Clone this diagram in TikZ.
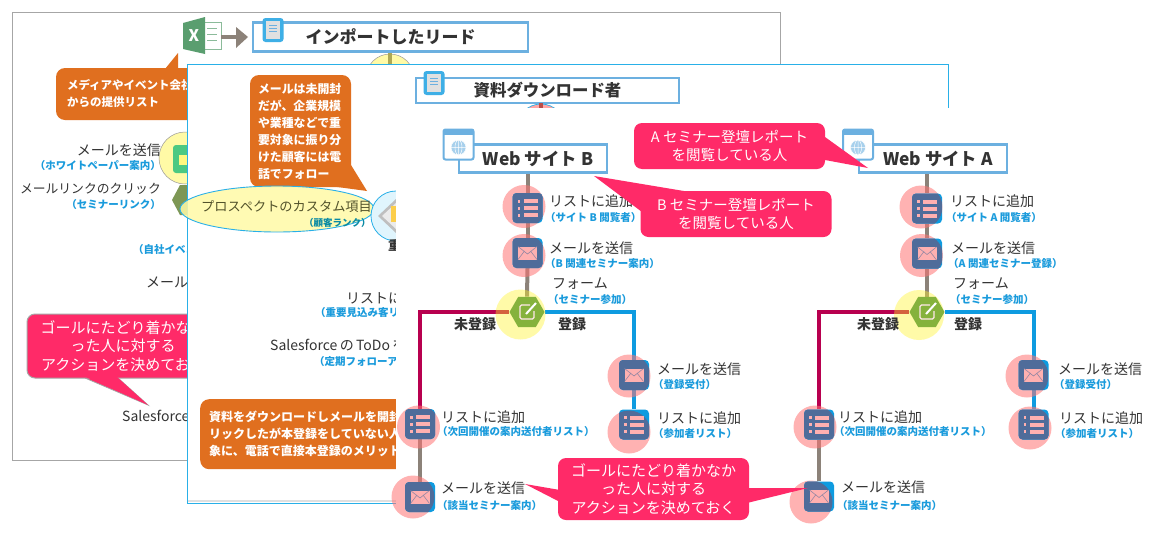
\documentclass[tikz,border=0pt]{standalone}
\usepackage{fontspec}
\setmainfont{Noto Sans CJK JP}
\usetikzlibrary{shapes.geometric,calc}
\definecolor{hotpink}{HTML}{FF2A68}
\definecolor{orangebox}{HTML}{E06F1F}
\definecolor{framebl}{HTML}{6CB0E0}
\definecolor{panelbl}{HTML}{29B0E8}
\definecolor{sub}{HTML}{1A9BDC}
\definecolor{ink}{HTML}{333333}
\definecolor{slate}{HTML}{4F6C9A}
\definecolor{iconbl}{HTML}{0E9BE0}
\definecolor{glyph}{HTML}{FFB0B0}
\definecolor{stem}{HTML}{8C8279}
\definecolor{redline}{HTML}{B8004F}
\definecolor{hexgreen}{HTML}{85B23C}
\definecolor{xlgreen}{HTML}{5A9E6F}
\pgfdeclarelayer{panels}
\pgfdeclarelayer{conn}
\pgfsetlayers{panels,conn,main}
\tikzset{
  x=1pt,y=-1pt,
  txt/.style={inner sep=0pt,anchor=west,text=ink,font=\fontsize{14}{17}\selectfont},
  txtr/.style={txt,anchor=east},
  subt/.style={inner sep=0pt,anchor=west,text=sub,font=\fontsize{10.5}{12}\selectfont\bfseries},
  subr/.style={subt,anchor=east},
  branch/.style={inner sep=0pt,text=ink,font=\fontsize{14}{15}\selectfont\bfseries},
  sitebox/.style={draw=framebl,line width=2.5pt,fill=white,minimum width=148pt,minimum height=28pt,inner sep=0pt,text=ink,font=\fontsize{17.4}{20}\selectfont\bfseries},
  titlebox/.style={draw=framebl,line width=2.5pt,fill=white,inner sep=0pt,text=ink},
  iconbase/.style={fill=iconbl,rounded corners=4pt,minimum width=30pt,minimum height=30pt,inner sep=0pt},
  disc/.style={fill=red!55!white,fill opacity=.55},
  stemline/.style={draw=stem,line width=4pt},
  noline/.style={draw=redline,line width=4pt},
  yesline/.style={draw=iconbl,line width=4pt},
  pinkbox/.style={fill=hotpink,rounded corners=8pt,text=white,align=center,inner sep=0pt,minimum width=191pt,minimum height=46pt,font=\fontsize{14.5}{18}\selectfont},
  orangebx/.style={fill=orangebox,rounded corners=9pt,text=white,align=left,inner sep=0pt,font=\fontsize{11.5}{17}\selectfont\bfseries},
}
% name, disc x,y, icon x,y, glyph
\newcommand\flowicon[6]{%
  \fill[disc] (#2,#3) circle (21.5);
  \node[iconbase] (#1) at (#4,#5) {};
  \begin{scope}
    \clip (#2,#3) circle (21.5);
    \fill[slate,rounded corners=4pt] (#4-15,#5-15) rectangle (#4+15,#5+15);
  \end{scope}
  #6{#4}{#5}}
\newcommand\mailglyph[2]{%
  \fill[glyph] (#1-9.5,#2-6.5) rectangle (#1+9.5,#2+6.5);
  \draw[slate!60!glyph,line width=.6pt] (#1-9.5,#2-6.5) -- (#1,#2+1) -- (#1+9.5,#2-6.5) (#1-9.5,#2+6.5) -- (#1-3,#2-2) (#1+9.5,#2+6.5) -- (#1+3,#2-2);}
\newcommand\listglyph[2]{%
  \foreach \d in {-7,0,7}{
    \fill[glyph] (#1-10,#2+\d-1.5) rectangle (#1-7.5,#2+\d+1.5);
    \fill[glyph] (#1-4,#2+\d-2) rectangle (#1+10,#2+\d+2);}}
\newcommand\formicon[5]{%
  \fill[yellow!85!white,fill opacity=.4] (#2,#3) circle (25);
  \node[regular polygon,regular polygon sides=6,fill=hexgreen,minimum size=35pt,inner sep=0pt] (#1) at (#4,#5) {};
  \draw[glyph!30!white,line width=1.2pt,rounded corners=1.5pt] (#4+3,#5-7) -- (#4-7,#5-7) -- (#4-7,#5+7) -- (#4+7,#5+7) -- (#4+7,#5-1);
  \draw[white,line width=2pt] (#4-1,#5+2) -- (#4+9,#5-9);}
\newcommand\webicon[3]{%
  \node[draw=framebl,line width=2pt,fill=white,rounded corners=2pt,minimum width=30pt,minimum height=30pt,inner sep=0pt] (#3) at (#1,#2) {};
  \fill[framebl] (#1-15,#2-15) rectangle (#1+15,#2-10);
  \fill[framebl!60!white] (#1,#2+3) circle (7.5);
  \draw[white,line width=.5pt] (#1,#2+3) circle (7.5) (#1-7.5,#2+3) -- (#1+7.5,#2+3) (#1,#2-4.5) -- (#1,#2+10.5) (#1,#2+3) ellipse (3.5 and 7.5);}
\newcommand\docicon[3]{%
  \node[fill=iconbl!80!white,rounded corners=3pt,minimum width=21pt,minimum height=24pt,inner sep=0pt] (#3) at (#1,#2) {};
  \fill[white!88!black] (#1-7,#2-9) rectangle (#1+7,#2+9);
  \draw[framebl,line width=.8pt] (#1-4,#2-5) -- (#1+4,#2-5) (#1-4,#2-2) -- (#1+4,#2-2) (#1-4,#2+1) -- (#1+4,#2+1);}
\begin{document}
\begin{tikzpicture}
\useasboundingbox (0,0) rectangle (1172,557);
\begin{pgfonlayer}{panels}
\fill[white] (0,0) rectangle (1172,557);
% ---------- back panel
\node[draw=black!35,line width=1pt,fill=white,minimum width=768pt,minimum height=448pt,inner sep=0pt] (backpanel) at (396,236) {};
\draw[xlgreen!70!white,line width=1pt] (200,22) rectangle (221,49);
\draw[xlgreen!70!white,line width=.8pt] (207,28) -- (217,28) (207,34) -- (217,34) (207,40) -- (217,40);
\fill[xlgreen] (183,23) -- (205,17) -- (205,54) -- (183,49) -- cycle;
\node[text=white,inner sep=0pt,font=\fontsize{16}{16}\selectfont\bfseries] (xlx) at (194,36) {X};
\node[titlebox,minimum width=275pt,minimum height=29pt,font=\fontsize{17}{20}\selectfont\bfseries] (importbox) at (390.5,37) {インポートしたリード};
\docicon{273}{30}{importdoc}
\coordinate (xlend) at (221,37);
\draw[stem,line width=4pt] (xlend) -- ++(16,0);
\fill[stem] (236,27) -- (248,37) -- (236,48) -- cycle;
\fill[yellow!35!white] (390,78) circle (24);
\draw[black!40,line width=.5pt] (390,78) circle (24);
\draw[stem!70!yellow,line width=4pt] (390,53) -- (390,70);
\fill[orangebox] (165,69) -- (178,53) -- (178,69) -- cycle;
\node[orangebx,minimum width=140pt,minimum height=52pt,text width=118pt] (medianote) at (126,94) {メディアやイベント会社\\からの提供リスト};
\node[txtr] (bsend) at (161,150) {メールを送信};
\node[subr] (bsendsub) at (161,166) {（ホワイトペーパー案内）};
\node[txtr,font=\fontsize{12.8}{15}\selectfont] (bclick) at (161,189) {メールリンクのクリック};
\node[subr] (bclicksub) at (161,205) {（セミナーリンク）};
\fill[yellow!35!white,draw=black!40,line width=.5pt] (185,158) circle (26);
\fill[teal!60!green!70!white,rounded corners=3pt] (173,145) rectangle (200,173);
\fill[yellow!50!white] (179,155) rectangle (190,165);
\fill[hexgreen!70!black!80!white] (172,200) -- (180,185) -- (200,185) -- (200,215) -- (180,215) -- cycle;
\node[subt] (beventsub) at (133,250) {（自社イベント案内）};
\node[txt] (bsend2) at (146,282) {メールを送信};
\fill[hotpink] (85,378) -- (148,405) -- (118,378) -- cycle;
\draw[black!35,line width=.8pt] (85,378) -- (148,405) -- (118,378);
\node[pinkbox,draw=black!35,line width=1pt,minimum width=192pt,minimum height=64pt,font=\fontsize{15}{18.7}\selectfont] (goalback) at (123,346) {ゴールにたどり着かなか\\った人に対する\\アクションを決めておく};
\fill[hotpink] (86,377) -- (148,405) -- (117,377) -- cycle;
\node[txt] (bsf) at (122,416) {Salesforceの};
% ---------- middle panel
\node[draw=panelbl,line width=1pt,fill=white,minimum width=761pt,minimum height=439pt,inner sep=0pt] (midpanel) at (567.5,283.5) {};
\draw[black!12,line width=2.5pt] (187.5,501) -- (396,501);
\node[titlebox,minimum width=263pt,minimum height=25pt,font=\fontsize{16.4}{18}\selectfont\bfseries] (dlbox) at (547.5,90.5) {資料ダウンロード者};
\docicon{434}{83}{dldoc}
\fill[red!35!white] (541,128) circle (24);
\draw[panelbl,line width=.7pt] (541,128) circle (24);
\draw[stem!60!red,line width=4pt] (541,103) -- (541,112);
\fill[orangebox] (330,186) -- (367,191) -- (351,165) -- cycle;
\node[orangebx,minimum width=101pt,minimum height=112pt,text width=85pt,font=\fontsize{11.9}{17}\selectfont\bfseries] (mailnote) at (300.5,131) {メールは未開封\\だが、企業規模\\や業種などで重\\要対象に振り分\\けた顧客には電\\話でフォロー};
\node[draw=panelbl,line width=.9pt,fill=yellow!35!white,fill opacity=.85,text opacity=1,ellipse,minimum width=194pt,minimum height=46pt,inner sep=0pt] (prospect) at (277,209) {};
\node[txt,text=ink!85!yellow,font=\fontsize{13.2}{15}\selectfont] (prospectt) at (201,207) {プロスペクトのカスタム項目};
\node[subt,text=teal!60!sub,font=\fontsize{9.5}{12}\selectfont\bfseries] (prospects) at (304,223) {（顧客ランク）};
\fill[cyan!12!white,draw=panelbl,line width=.8pt] (396,216) circle (25);
\fill[black!25] (378,216) -- (396,199) -- (396,233) -- cycle;
\fill[black!8] (382,216) -- (396,203) -- (396,229) -- cycle;
\fill[yellow!50!orange!70!white] (391,206) rectangle (396,222);
\node[txt,font=\fontsize{13}{15}\selectfont\bfseries] (midjud) at (388,246) {重要};
\node[txt] (mlist) at (346,298) {リストに追加};
\node[subt] (mlists) at (315,313) {（重要見込み客リスト）};
\node[txt] (mtodo) at (270,345) {Salesforce\,の\,ToDo\,を作成};
\node[subt] (mtodos) at (314,361) {（定期フォローアップ）};
\node[orangebx,anchor=north west,minimum width=230pt,minimum height=70pt,text width=212pt,font=\fontsize{12}{17}\selectfont\bfseries] (phonenote) at (200,399) {資料をダウンロードしメールを開封\\リックしたが本登録をしていない人\\象に、電話で直接本登録のメリットを};
% ---------- front sheet
\fill[white] (396,108) rectangle (1160,535);
\end{pgfonlayer}

% ---------- Site B
\node[sitebox] (sb) at (533,158.5) {\hspace{10pt}Web サイト B};
\webicon{458.5}{144.5}{sbweb}
\flowicon{blist}{524}{206.5}{527.5}{208}{\listglyph}
\flowicon{bmail}{524}{255.5}{527.5}{253}{\mailglyph}
\formicon{bform}{520.5}{314.5}{527}{312}
\flowicon{brm}{629}{376}{634}{375}{\mailglyph}
\flowicon{brl}{629}{432}{634}{424.5}{\listglyph}
\flowicon{bll}{418.5}{427}{420}{424}{\listglyph}
\flowicon{blm}{413}{497}{420}{497}{\mailglyph}
\node[txt] at (549,201) (t1) {リストに追加};
\node[subt] at (545,218) (t2) {（サイト B 閲覧者）};
\node[txt] at (549,248) (t3) {メールを送信};
\node[subt] at (545,264) (t4) {（B 関連セミナー案内）};
\node[txt] at (552,284) (t5) {フォーム};
\node[subt] at (548,300) (t6) {（セミナー参加）};
\node[branch] at (475,324) (t7) {未登録};
\node[branch] at (572,324) (t8) {登録};
\node[txt] at (657,369) (t9) {メールを送信};
\node[subt] at (653,385) (t10) {（登録受付）};
\node[txt] at (657,418) (t11) {リストに追加};
\node[subt] at (653,434) (t12) {（参加者リスト）};
\node[txt] at (441,417) (t13) {リストに追加};
\node[subt] at (437,432) (t14) {（次回開催の案内送付者リスト）};
\node[txt] at (441,488) (t15) {メールを送信};
\node[subt] at (437,506) (t16) {（該当セミナー案内）};
% ---------- Site A
\node[sitebox] (sa) at (933,158.5) {\hspace{10pt}Web サイト A};
\webicon{858}{144.5}{saweb}
\flowicon{alist}{921}{207}{927}{208.5}{\listglyph}
\flowicon{amail}{921.5}{255.5}{927}{253.5}{\mailglyph}
\formicon{aform}{919}{315}{927}{312}
\flowicon{arm}{1027}{376}{1033.5}{375}{\mailglyph}
\flowicon{arl}{1030}{428}{1033.5}{424.5}{\listglyph}
\flowicon{all}{815}{427}{819}{424.5}{\listglyph}
\flowicon{alm}{811}{502}{819}{496.5}{\mailglyph}
\node[txt] at (950,201) (u1) {リストに追加};
\node[subt] at (946,218) (u2) {（サイト A 閲覧者）};
\node[txt] at (951,248) (u3) {メールを送信};
\node[subt] at (948,264) (u4) {（A 関連セミナー登録）};
\node[txt] at (953,284) (u5) {フォーム};
\node[subt] at (950,300) (u6) {（セミナー参加）};
\node[branch] at (878,324) (u7) {未登録};
\node[branch] at (968,324) (u8) {登録};
\node[txt] at (1058,369) (u9) {メールを送信};
\node[subt] at (1054,385) (u10) {（登録受付）};
\node[txt] at (1059,418) (u11) {リストに追加};
\node[subt] at (1055,434) (u12) {（参加者リスト）};
\node[txt] at (838,417) (u13) {リストに追加};
\node[subt] at (834,432) (u14) {（次回開催の案内送付者リスト）};
\node[txt] at (841,487) (u15) {メールを送信};
\node[subt] at (837,506) (u16) {（該当セミナー案内）};
% ---------- callouts
\fill[hotpink] (825,137) -- (868,168) -- (825,160) -- cycle;
\node[pinkbox] (anote) at (729.5,146) {A セミナー登壇レポート\\を閲覧している人};
\fill[hotpink] (594,176) -- (690,192) -- (642,212) -- cycle;
\node[pinkbox] (bnote) at (736,214) {B セミナー登壇レポート\\を閲覧している人};
\fill[hotpink] (525,484) -- (560,490) -- (560,502) -- cycle;
\fill[hotpink] (808,488) -- (747,488) -- (747,503) -- cycle;
\node[pinkbox,minimum height=62pt,font=\fontsize{15}{18.5}\selectfont] (goal) at (653.5,489) {ゴールにたどり着かなか\\った人に対する\\アクションを決めておく};
\begin{pgfonlayer}{conn}
\draw[stemline] (blist |- sb.south) -- (blist.north);
\draw[stemline] (blist.south) -- (bmail.north);
\draw[stemline] (bmail.south) -- (bform.north);
\draw[noline] (bform.west) -| (bll.north);
\draw[yesline] (bform.east) -| (brm.north);
\draw[yesline] (brm.south) -- (brl.north);
\draw[stemline] (bll.south) -- (blm.north);
\draw[stemline] (alist |- sa.south) -- (alist.north);
\draw[stemline] (alist.south) -- (amail.north);
\draw[stemline] (amail.south) -- (aform.north);
\draw[noline] (aform.west) -| (all.north);
\draw[yesline] (aform.east) -| (arm.north);
\draw[yesline] (arm.south) -- (arl.north);
\draw[stemline] (all.south) -- (alm.north);
\end{pgfonlayer}
\end{tikzpicture}
\end{document}
